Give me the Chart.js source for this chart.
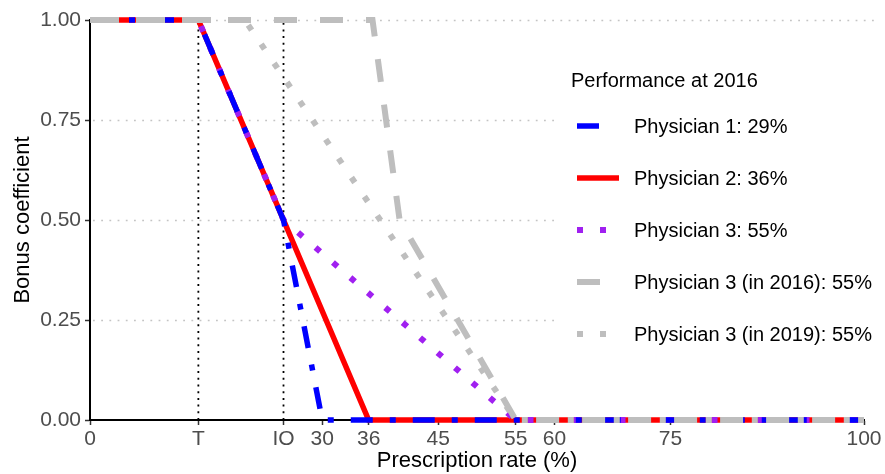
<!DOCTYPE html>
<html>
<head>
<meta charset="utf-8">
<script src="https://cdn.jsdelivr.net/npm/chart.js@4.4.1/dist/chart.umd.min.js"></script>
<style>
  html, body { margin: 0; padding: 0; background: #ffffff; }
  #wrap { width: 885px; height: 474px; position: relative; }
</style>
</head>
<body>
<div id="wrap"><canvas id="c" width="885" height="474"></canvas></div>
<script>
// Prescription-rate breakpoints (x, %) and bonus coefficients (y) per physician
const physician1X = [0, 14, 25, 30, 100];
const physician1Y = [1, 1, 0.5, 0, 0];
const physician2X = [0, 14, 36, 100];
const physician2Y = [1, 1, 0, 0];
const physician3X = [0, 14, 25, 55, 100];
const physician3Y = [1, 1, 0.5, 0, 0];
const physician3in2016X = [0, 36.5, 40, 55, 100];
const physician3in2016Y = [1, 1, 0.5, 0, 0];
const physician3in2019X = [0, 20, 55, 100];
const physician3in2019Y = [1, 1, 0, 0];

// Target (T) and intermediate objective (IO) thresholds
const thresholdT = 14;
const thresholdIO = 25;

// Axis ticks
const xTickValues = [0, 14, 25, 30, 36, 45, 55, 60, 75, 100];
const xTickLabels = ['0', 'T', 'IO', '30', '36', '45', '55', '60', '75', '100'];
const yTickValues = [0, 0.25, 0.5, 0.75, 1];

const seriesLabels = [
  'Physician 1: 29%',
  'Physician 2: 36%',
  'Physician 3: 55%',
  'Physician 3 (in 2016): 55%',
  'Physician 3 (in 2019): 55%'
];
const legendTitle = 'Performance at 2016';

const FONT = '"Liberation Sans", Arial, sans-serif';
const pts = (xs, ys) => xs.map((x, i) => ({ x: x, y: ys[i] }));

const BLUE = '#0000FF', RED = '#FF0000', PURPLE = '#A020F0', GREY = '#BEBEBE';

const lineBase = { fill: false, pointRadius: 0, tension: 0, borderCapStyle: 'butt', borderJoinStyle: 'miter', clip: 10 };

const datasets = [
  Object.assign({}, lineBase, { label: seriesLabels[0], data: pts(physician1X, physician1Y), borderColor: BLUE, borderWidth: 5.5, borderDash: [22, 17, 6, 17], order: 3 }),
  Object.assign({}, lineBase, { label: seriesLabels[1], data: pts(physician2X, physician2Y), borderColor: RED, borderWidth: 5.5, borderDash: [], order: 5 }),
  Object.assign({}, lineBase, { label: seriesLabels[2], data: pts(physician3X, physician3Y), borderColor: PURPLE, borderWidth: 6, borderDash: [6, 17], order: 4 }),
  Object.assign({}, lineBase, { label: seriesLabels[3], data: pts(physician3in2016X, physician3in2016Y), borderColor: GREY, borderWidth: 6, borderDash: [23, 23], order: 2 }),
  Object.assign({}, lineBase, { label: seriesLabels[4], data: pts(physician3in2019X, physician3in2019Y), borderColor: GREY, borderWidth: 6, borderDash: [6, 17], order: 1 }),
  Object.assign({}, lineBase, { label: 'T', data: pts([thresholdT, thresholdT], [0, 1]), borderColor: '#000000', borderWidth: 1.8, borderDash: [2, 4.7], order: 6, clip: 0 }),
  Object.assign({}, lineBase, { label: 'IO', data: pts([thresholdIO, thresholdIO], [0, 1]), borderColor: '#000000', borderWidth: 1.8, borderDash: [2, 4.7], order: 6, clip: 0 })
];

// Dotted horizontal guides at each y tick, drawn beneath the series
const guidePlugin = {
  id: 'guides',
  beforeDatasetsDraw(chart) {
    const { ctx, chartArea, scales } = chart;
    ctx.save();
    ctx.strokeStyle = '#C4C4C4';
    ctx.lineWidth = 1.6;
    ctx.setLineDash([1.8, 6.4]);
    yTickValues.forEach(v => {
      if (v === 0) return;
      const y = Math.round(scales.y.getPixelForValue(v)) + 0.5;
      ctx.beginPath();
      ctx.moveTo(chartArea.left + 3, y);
      ctx.lineTo(chartArea.right + 14, y);
      ctx.stroke();
    });
    ctx.restore();
  }
};

// Legend box placed inside the panel, with keys using each series' stroke style
const legendPlugin = {
  id: 'insideLegend',
  afterDatasetsDraw(chart) {
    const { ctx } = chart;
    ctx.save();
    ctx.fillStyle = '#ffffff';
    ctx.fillRect(556, 56, 329, 304);
    ctx.fillStyle = '#000000';
    ctx.font = '20px ' + FONT;
    ctx.textBaseline = 'middle';
    ctx.textAlign = 'left';
    ctx.fillText(legendTitle, 571, 81);
    const rowY = [126, 178, 230, 282, 334];
    for (let i = 0; i < 5; i++) {
      const ds = chart.data.datasets[i];
      const keyEnd = (ds.borderDash && ds.borderDash.length) ? 615 : 619;
      ctx.strokeStyle = ds.borderColor;
      ctx.lineWidth = ds.borderWidth;
      ctx.lineCap = 'butt';
      ctx.setLineDash(ds.borderDash || []);
      ctx.beginPath();
      ctx.moveTo(577, rowY[i]);
      ctx.lineTo(keyEnd, rowY[i]);
      ctx.stroke();
      ctx.setLineDash([]);
      ctx.fillStyle = '#000000';
      ctx.fillText(seriesLabels[i], 634, rowY[i] + 1);
    }
    ctx.restore();
  }
};

new Chart(document.getElementById('c'), {
  type: 'line',
  data: { datasets: datasets },
  plugins: [guidePlugin, legendPlugin],
  options: {
    responsive: false,
    animation: false,
    devicePixelRatio: 1,
    layout: { padding: { top: 20, right: 21, left: 0, bottom: 0 } },
    plugins: { legend: { display: false }, tooltip: { enabled: false } },
    scales: {
      x: {
        type: 'linear',
        min: 0,
        max: 100,
        afterBuildTicks(scale) { scale.ticks = xTickValues.map(v => ({ value: v })); },
        afterFit(scale) { scale.height = 54; },
        ticks: {
          autoSkip: false,
          maxRotation: 0,
          padding: 2,
          color: '#4D4D4D',
          font: { family: FONT, size: 21 },
          callback(value) {
            const i = xTickValues.indexOf(value);
            return i >= 0 ? xTickLabels[i] : '';
          }
        },
        grid: { display: true, drawOnChartArea: false, drawTicks: true, tickLength: 5, tickColor: '#333333', tickWidth: 1.5 },
        border: { display: true, color: '#000000', width: 2 },
        title: { display: true, text: 'Prescription rate (%)', color: '#000000', font: { family: FONT, size: 22 }, padding: { top: 2, bottom: 0 } }
      },
      y: {
        type: 'linear',
        min: 0,
        max: 1,
        afterBuildTicks(scale) { scale.ticks = yTickValues.map(v => ({ value: v })); },
        afterFit(scale) { scale.width = 90; },
        ticks: {
          padding: 4,
          color: '#4D4D4D',
          font: { family: FONT, size: 21 },
          callback(value) { return Number(value).toFixed(2); }
        },
        grid: { display: true, drawOnChartArea: false, drawTicks: true, tickLength: 5, tickColor: '#333333', tickWidth: 1.5 },
        border: { display: true, color: '#000000', width: 2 },
        title: { display: true, text: 'Bonus coefficient', color: '#000000', font: { family: FONT, size: 22 }, padding: { top: 10, bottom: 2 } }
      }
    }
  }
});
</script>
</body>
</html>
